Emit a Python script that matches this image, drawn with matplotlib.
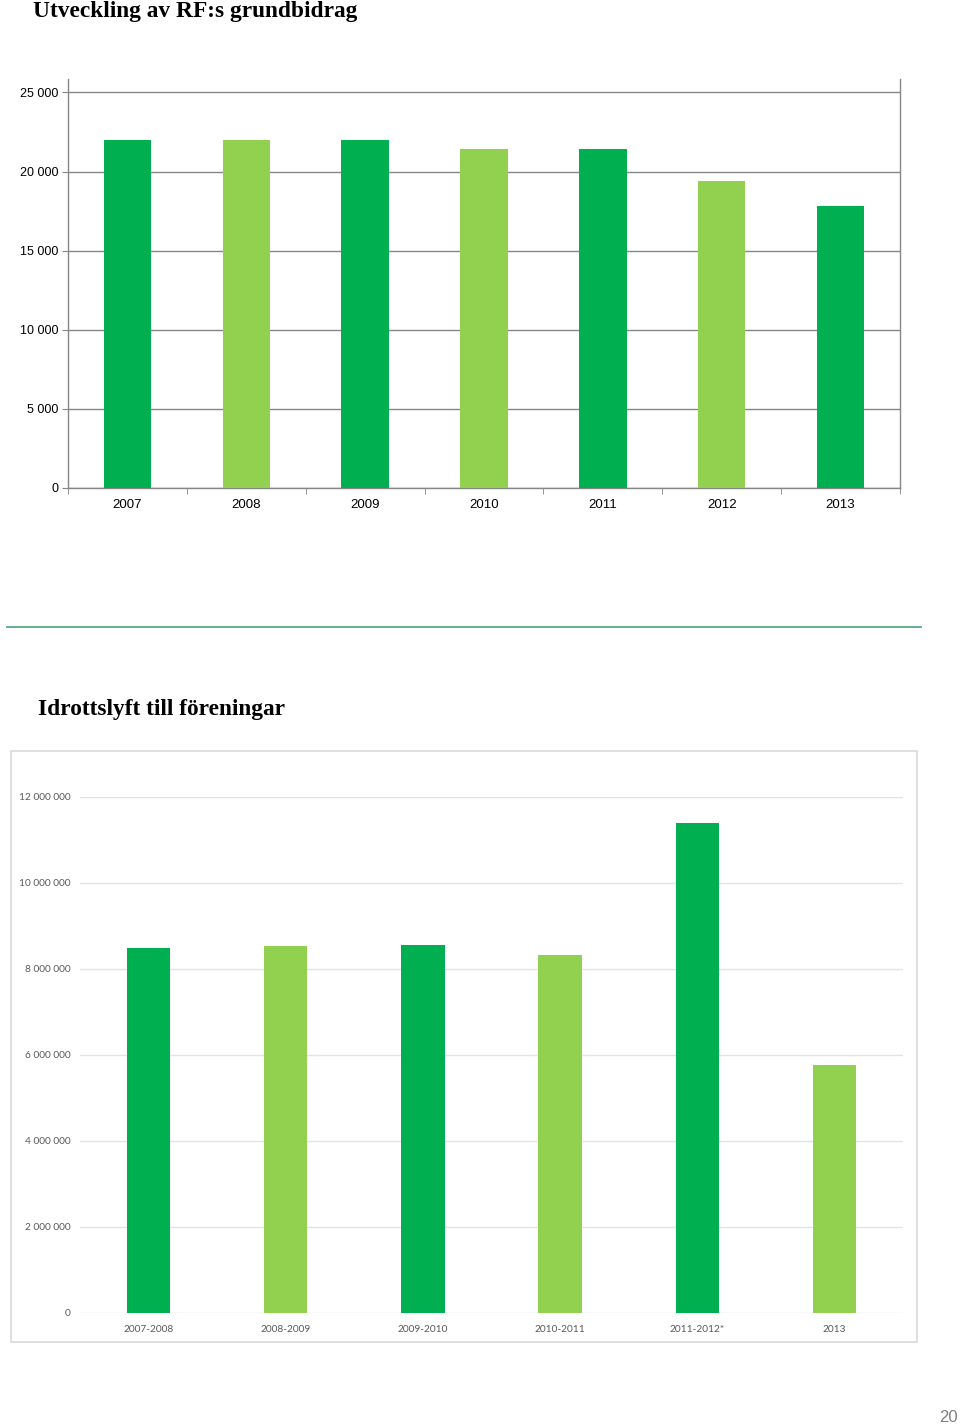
import matplotlib.pyplot as plt
import numpy as np
from matplotlib.patches import Rectangle
from matplotlib.lines import Line2D

# RF:s grundbidrag (tkr)
years = ['2007', '2008', '2009', '2010', '2011', '2012', '2013']
grundbidrag = [22000, 22000, 22000, 21400, 21400, 19400, 17800]
yticks_top = [0, 5000, 10000, 15000, 20000, 25000]

# Idrottslyft till föreningar (kr)
periods = ['2007-2008', '2008-2009', '2009-2010', '2010-2011', '2011-2012*', '2013']
idrottslyft = [8490000, 8530000, 8560000, 8330000, 11390000, 5770000]
yticks_bottom = [0, 2000000, 4000000, 6000000, 8000000, 10000000, 12000000]

dark = '#00b050'
light = '#92d050'


def fmt(v):
    return f'{v:,}'.replace(',', ' ')


fig = plt.figure(figsize=(9.6, 14.26), dpi=100)
W, H = 960, 1426

# titles
fig.text(33 / W, 1 - 17 / H, 'Utveckling av RF:s grundbidrag', family='Liberation Serif',
         weight='bold', fontsize=16.8, va='baseline', ha='left')
fig.text(38 / W, 1 - 715 / H, 'Idrottslyft till föreningar', family='Liberation Serif',
         weight='bold', fontsize=16.8, va='baseline', ha='left')

# separator and page number
fig.add_artist(Line2D([7 / W, 921 / W], [1 - 627 / H, 1 - 627 / H], color='#5aa888', lw=1.3))
fig.text(958 / W, 1 - 1425 / H, '20', family='Liberation Sans', fontsize=12,
         color='#7f7f7f', ha='right', va='bottom')

# --- top chart ---
ax1 = fig.add_axes([68 / W, 1 - 488 / H, 832 / W, 409 / H])
x1 = np.arange(len(years))
cols1 = [dark if i % 2 == 0 else light for i in range(len(years))]
ax1.bar(x1, grundbidrag, width=0.4, color=cols1, zorder=3)
ax1.set_xlim(-0.5, len(years) - 0.5)
ax1.set_ylim(0, 25850)
ax1.set_yticks(yticks_top)
ax1.set_yticklabels([fmt(v) for v in yticks_top], family='Liberation Sans', fontsize=9)
ax1.set_xticks(x1)
ax1.set_xticklabels(years, family='Liberation Sans', fontsize=9.5)
ax1.set_xticks(np.arange(-0.5, len(years)), minor=True)
ax1.tick_params(axis='x', which='major', length=0, pad=8)
ax1.tick_params(axis='x', which='minor', length=4, direction='out', color='#868686')
ax1.tick_params(axis='y', length=4, direction='out', color='#868686', pad=3)
ax1.grid(axis='y', color='#868686', lw=1, zorder=0)
ax1.spines['top'].set_visible(False)
for s in ['left', 'right', 'bottom']:
    ax1.spines[s].set_color('#868686')
    ax1.spines[s].set_linewidth(1)

# --- bottom chart ---
fig.add_artist(Rectangle((11 / W, 1 - 1342 / H), 906 / W, 591 / H, transform=fig.transFigure,
                         facecolor='white', edgecolor='#d9d9d9', lw=1.2, zorder=0))
ax2 = fig.add_axes([80 / W, 1 - 1313 / H, 823 / W, 516 / H])
ax2.patch.set_alpha(0)
x2 = np.arange(len(periods))
cols2 = [dark, light, dark, light, dark, light]
ax2.bar(x2, idrottslyft, width=0.315, color=cols2, zorder=3)
ax2.set_xlim(-0.5, len(periods) - 0.5)
ax2.set_ylim(0, 12000000)
ax2.set_yticks(yticks_bottom)
ax2.set_yticklabels([fmt(v) for v in yticks_bottom], family='Lato', fontsize=7.3, color='#595959')
ax2.set_xticks(x2)
ax2.set_xticklabels(periods, family='Lato', fontsize=7.3, color='#595959')
ax2.tick_params(axis='both', length=0)
ax2.tick_params(axis='y', pad=7)
ax2.tick_params(axis='x', pad=9)
ax2.grid(axis='y', color='#e3e3e3', lw=1, zorder=0)
for s in ax2.spines.values():
    s.set_visible(False)
ax2.set_axisbelow(True)

fig.savefig('out.png', dpi=100)
